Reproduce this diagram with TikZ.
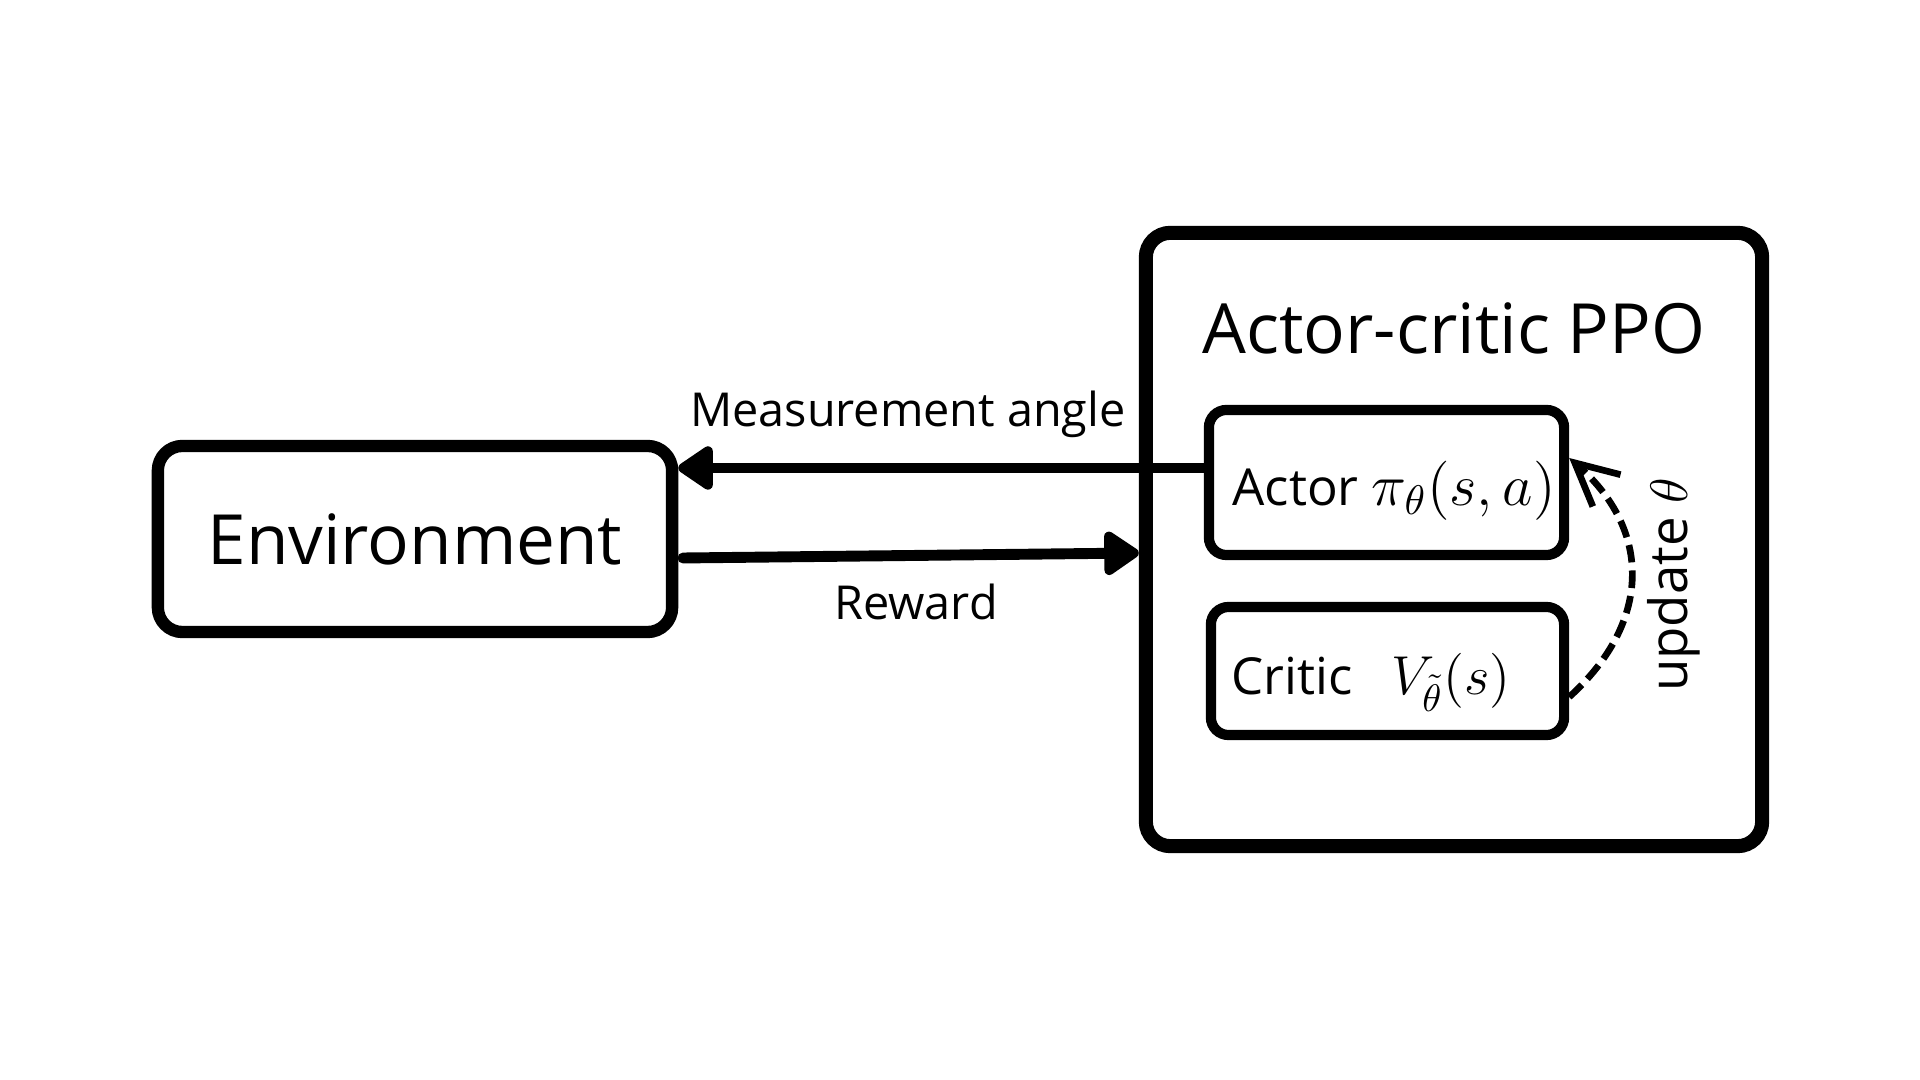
\RequirePackage{fix-cm}
\documentclass[tikz,border=0pt]{standalone}
\usepackage{fontspec}
\setmainfont{Open Sans}
\usetikzlibrary{arrows.meta}
\newcommand{\mathbig}[1]{{\fontsize{16.8pt}{20pt}\selectfont #1}}
\newcommand{\mathmid}[1]{{\fontsize{15.6pt}{19pt}\selectfont #1}}
\begin{document}
\begin{tikzpicture}[x=0.01cm,y=-0.01cm,
  bigbox/.style={draw, rounded corners=7pt, line width=3.5pt, inner sep=0pt},
  ppobox/.style={draw, rounded corners=7pt, line width=4pt, inner sep=0pt},
  smallbox/.style={draw, rounded corners=5pt, line width=2.9pt, inner sep=0pt},
  bigfont/.style={font=\fontsize{19.7pt}{24pt}\selectfont},
  midfont/.style={font=\fontsize{14.5pt}{18pt}\selectfont},
  updfont/.style={font=\fontsize{15pt}{18pt}\selectfont},
  lblfont/.style={font=\fontsize{13.3pt}{16pt}\selectfont},
  flow/.style={line width=3.1pt, line cap=round, -{Triangle[length=11pt,width=14pt,round]}},
  upd/.style={line width=1.9pt, dash pattern=on 5pt off 2.3pt, -{Straight Barb[length=12pt,width=12pt]}}]
\useasboundingbox (0,0) rectangle (1920,1080);
\node[bigbox, bigfont, minimum width=5.14cm, minimum height=1.86cm] (env) at (415,539) {Environment};
\node[ppobox, minimum width=6.16cm, minimum height=6.13cm] (ppo) at (1454,539.5) {};
\node[bigfont] (title) at (1454,328) {Actor-critic PPO};
\node[smallbox, minimum width=3.55cm, minimum height=1.45cm] (actor) at (1386.5,482.5) {};
\node[midfont] (actortxt) at (1394,491) {Actor \mathbig{$\pi_\theta(s,a)$}};
\node[smallbox, minimum width=3.53cm, minimum height=1.28cm] (critic) at (1387.5,671) {};
\node[midfont] (critictxt) at (1371,682) {Critic\hspace{0.75em}\mathmid{$V_{\tilde\theta}(s)$}};
\coordinate (mrow) at (0,468);
\draw[flow] (actor.west |- mrow) -- (env.east |- mrow);
\node[lblfont] (mlbl) at (908,414) {Measurement angle};
\coordinate (rstart) at (683,558);
\draw[flow] (rstart) -- (ppo.west |- 0,553);
\node[lblfont] (rlbl) at (916,602) {Reward};
\draw[upd] (critic.east |- 0,697) .. controls (1652,622) and (1652,530) .. (actor.east |- 0,458);
\node[updfont, rotate=90] (ulbl) at (1674,585) {update $\theta$};
\end{tikzpicture}
\end{document}
